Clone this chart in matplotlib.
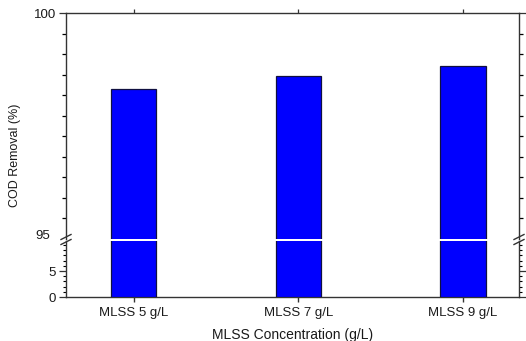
import numpy as np
import matplotlib
matplotlib.use("Agg")
import matplotlib.pyplot as plt
from matplotlib.lines import Line2D

plt.rcParams["font.family"] = ["Liberation Sans", "DejaVu Sans"]

categories = ["MLSS 5 g/L", "MLSS 7 g/L", "MLSS 9 g/L"]
cod_removal = [98.31, 98.61, 98.82]
xlabel = "MLSS Concentration (g/L)"
ylabel = "COD Removal (%)"

W, H, DPI = 526, 341, 100
fig = plt.figure(figsize=(W / DPI, H / DPI), dpi=DPI)

def fx(px):
    return px / W

def fy(py):
    return 1 - py / H

left_px, right_px = 66, 519
top_px, brk_hi, brk_lo, bot_px = 13, 238.5, 240.5, 297

ax_top = fig.add_axes([fx(left_px), fy(brk_hi), fx(right_px - left_px), (brk_hi - top_px) / H])
ax_bot = fig.add_axes([fx(left_px), fy(bot_px), fx(right_px - left_px), (bot_px - brk_lo) / H])

axis_col = "#333333"
text_col = "#1a1a1a"
x = np.arange(len(categories))
bar_w = 0.275

for ax in (ax_top, ax_bot):
    ax.bar(x, cod_removal, width=bar_w, color="#0000ff", edgecolor="#101040", linewidth=0.9, zorder=3)
    ax.set_xlim(-0.41, 2.34)
    for s in ax.spines.values():
        s.set_color(axis_col)
        s.set_linewidth(1.0)
    ax.tick_params(colors=axis_col, labelcolor=text_col, labelsize=9.5, direction="out")

# upper segment
ax_top.set_ylim(95, 100)
ax_top.spines["bottom"].set_visible(False)
ax_top.set_yticks([100])
ax_top.set_yticklabels(["100"])
ax_top.set_yticks(np.linspace(95, 100, 12)[1:-1], minor=True)
ax_top.tick_params(axis="y", which="minor", left=True, right=True, length=3.2, width=0.9)
ax_top.tick_params(axis="y", which="major", left=True, right=True, length=5, width=0.9, pad=2)
ax_top.tick_params(axis="x", which="both", bottom=False, top=True, labelbottom=False, length=3, width=0.9)
ax_top.set_xticks(x)
ax_top.text(-0.035, 0.012, "95", transform=ax_top.transAxes, ha="right", va="center",
            fontsize=9.5, color=text_col)

# lower segment
ax_bot.set_ylim(0, (bot_px - brk_lo) / 5.2)
ax_bot.spines["top"].set_visible(False)
ax_bot.set_yticks([0, 5])
ax_bot.set_yticks(np.arange(0, 11, 1), minor=True)
ax_bot.tick_params(axis="y", which="major", left=True, right=True, length=5, width=0.9, pad=2)
ax_bot.tick_params(axis="y", which="minor", left=True, right=True, length=2.5, width=0.8)
ax_bot.set_xticks(x)
ax_bot.set_xticklabels(categories)
ax_bot.tick_params(axis="x", which="major", length=3.5, width=1.0, pad=4)

ax_bot.set_xlabel(xlabel, fontsize=10, color=text_col, labelpad=6)
fig.text(fx(15), fy(155), ylabel, rotation=90, ha="center", va="center", fontsize=9, color=text_col)

# break marks on both vertical spines
for xp in (left_px, right_px):
    for yp in (brk_hi - 1.5, brk_lo + 1.5):
        fig.add_artist(Line2D([fx(xp - 5), fx(xp + 5)], [fy(yp + 2.5), fy(yp - 2.5)],
                              color=axis_col, linewidth=1.0))

fig.savefig("out.png", dpi=DPI)
